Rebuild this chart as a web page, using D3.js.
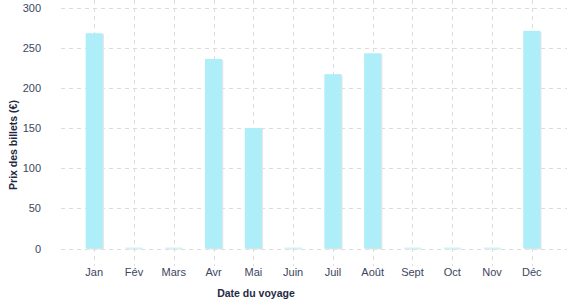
<!DOCTYPE html>
<html>
<head>
<meta charset="utf-8">
<script src="https://cdn.jsdelivr.net/npm/d3@7"></script>
<style>
  body { margin: 0; background: #fff; }
  text { font-family: "Liberation Sans", Arial, sans-serif; }
</style>
</head>
<body>
<div id="chart"></div>
<script>
// data
var months = ['Jan', 'Fév', 'Mars', 'Avr', 'Mai', 'Juin', 'Juil', 'Août', 'Sept', 'Oct', 'Nov', 'Déc']
var prices = [268, 1, 1, 236, 150, 1, 217, 243, 1, 1, 1, 271]
var yticks = [0, 50, 100, 150, 200, 250, 300]

// plot box ('top' is taken by window, so py0/py1)
var w = 577,
    h = 300,
    px0 = 61,
    px1 = 565,
    py0 = 7.5,
    py1 = 248.5

var svg = d3.select('#chart')
    .append('svg')
    .attr('width', w)
    .attr('height', h)

// scales
var xscale = d3.scaleBand()
    .domain(months)
    .range([px0, px1])
    .paddingInner(0.57)
    .paddingOuter(0.62)

var yscale = d3.scaleLinear()
    .domain([0, 300])
    .range([py1, py0])

// grid
svg.append('g')
    .selectAll('line')
    .data(yticks)
    .enter()
    .append('line')
    .attr('x1', px0)
    .attr('x2', px1 + 2)
    .attr('y1', d => Math.round(yscale(d)) + 0.5)
    .attr('y2', d => Math.round(yscale(d)) + 0.5)
    .attr('stroke', '#dcdcdc')
    .attr('stroke-dasharray', '4,4')

svg.append('g')
    .selectAll('line')
    .data(months)
    .enter()
    .append('line')
    .attr('x1', d => Math.round(xscale(d) + xscale.bandwidth() / 2) + 0.5)
    .attr('x2', d => Math.round(xscale(d) + xscale.bandwidth() / 2) + 0.5)
    .attr('y1', 0)
    .attr('y2', 266)
    .attr('stroke', '#dcdcdc')
    .attr('stroke-dasharray', '4,4')

// bars (with a faint shadow)
svg.append('g')
    .selectAll('rect')
    .data(prices)
    .enter()
    .append('rect')
    .attr('x', (d, i) => xscale(months[i]) + 1.2)
    .attr('y', d => yscale(d) + 1)
    .attr('width', xscale.bandwidth())
    .attr('height', d => py1 - yscale(d))
    .attr('fill', '#e6e6e6')

svg.append('g')
    .selectAll('rect')
    .data(prices)
    .enter()
    .append('rect')
    .attr('x', (d, i) => xscale(months[i]))
    .attr('y', d => yscale(d))
    .attr('width', xscale.bandwidth())
    .attr('height', d => py1 - yscale(d))
    .attr('fill', '#aeeef9')

// axes
var yaxis = d3.axisLeft(yscale)
    .tickValues(yticks)
    .tickSize(0)
    .tickPadding(0)

var xaxis = d3.axisBottom(xscale)
    .tickSize(0)
    .tickPadding(0)

var gy = svg.append('g')
    .attr('transform', `translate(41,0)`)
    .call(yaxis)
gy.select('.domain').remove()
gy.selectAll('text')
    .attr('fill', '#3b4660')
    .attr('font-size', '11px')

var gx = svg.append('g')
    .attr('transform', `translate(0,268)`)
    .call(xaxis)
gx.select('.domain').remove()
gx.selectAll('text')
    .attr('fill', '#3b4660')
    .attr('font-size', '11px')

// titles
svg.append('text')
    .text('Date du voyage')
    .attr('x', 256)
    .attr('y', 297)
    .attr('text-anchor', 'middle')
    .attr('font-size', '10.5px')
    .attr('font-weight', 'bold')
    .attr('fill', '#1f2a44')

svg.append('text')
    .text('Prix des billets (€)')
    .attr('transform', 'translate(17,145) rotate(-90)')
    .attr('text-anchor', 'middle')
    .attr('font-size', '10.5px')
    .attr('font-weight', 'bold')
    .attr('fill', '#1f2a44')
</script>
</body>
</html>
